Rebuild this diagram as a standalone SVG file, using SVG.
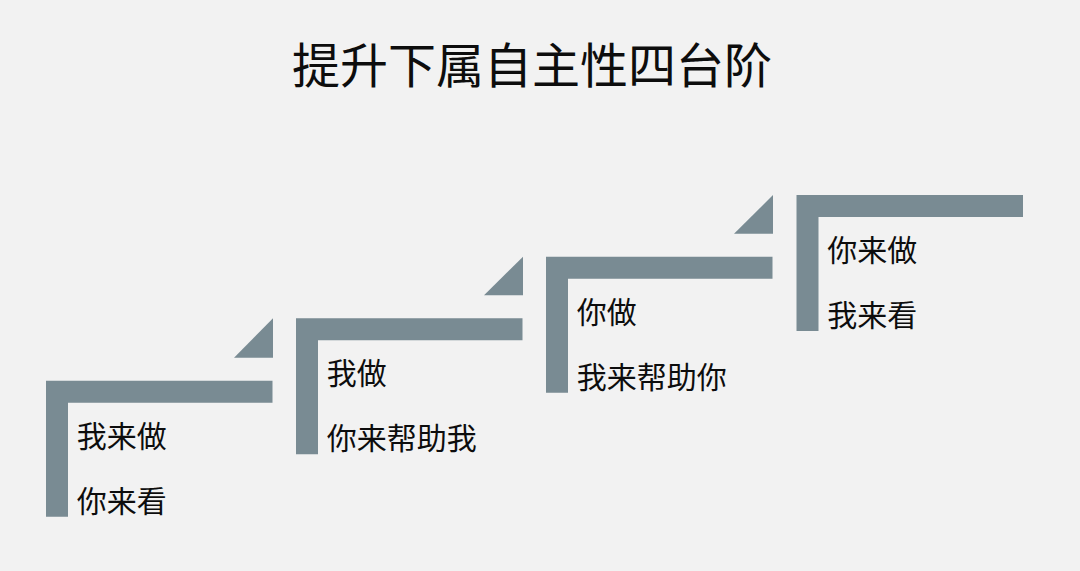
<svg xmlns="http://www.w3.org/2000/svg" width="1080" height="571" viewBox="0 0 1080 571">
  <defs>
    <style>
      .bar { fill: #798b93; }
      .tri { fill: #798b93; }
      .lbl { font-family: "Noto Sans CJK SC", "Noto Sans", sans-serif; font-size: 30px; fill: #0d0d0d; }
      .title { font-family: "Noto Sans CJK SC", "Noto Sans", sans-serif; font-size: 48px; fill: #0d0d0d; text-anchor: middle; }
    </style>
    <path id="ell" d="M0,0 H226.5 V22 H22 V136 H0 Z"/>
  </defs>
  <rect width="1080" height="571" fill="#f2f2f2"/>
  <text class="title" x="532" y="83">提升下属自主性四台阶</text>

  <g id="step1" transform="translate(46,380.7)">
    <use href="#ell" class="bar"/>
    <polygon class="tri" points="188,-23 227,-62.4 227,-23"/>
    <text class="lbl" x="30.7" y="66">我来做</text>
    <text class="lbl" x="30.7" y="131">你来看</text>
  </g>
  <g id="step2" transform="translate(296,318.3)">
    <use href="#ell" class="bar"/>
    <polygon class="tri" points="188,-23 227,-61.6 227,-23"/>
    <text class="lbl" x="30.7" y="66">我做</text>
    <text class="lbl" x="30.7" y="131">你来帮助我</text>
  </g>
  <g id="step3" transform="translate(546,256.7)">
    <use href="#ell" class="bar"/>
    <polygon class="tri" points="188,-23 227,-61.7 227,-23"/>
    <text class="lbl" x="30.7" y="66">你做</text>
    <text class="lbl" x="30.7" y="131">我来帮助你</text>
  </g>
  <g id="step4" transform="translate(796.5,195)">
    <use href="#ell" class="bar"/>
    <text class="lbl" x="30.7" y="66">你来做</text>
    <text class="lbl" x="30.7" y="131">我来看</text>
  </g>
  <g id="connectors"></g>
</svg>
